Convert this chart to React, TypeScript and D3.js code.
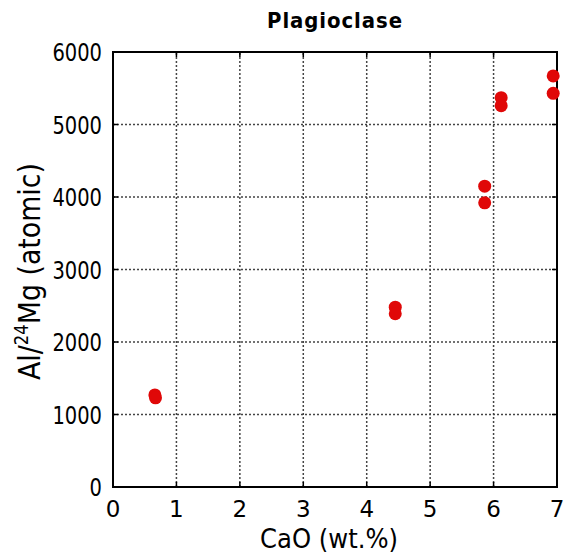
import React, { useEffect, useRef } from 'react';
import * as d3 from 'd3';

// CaO (wt.%) vs Al/24Mg (atomic), two spots per grain
const caoValues = [0.66, 0.67, 4.45, 4.45, 5.86, 5.86, 6.12, 6.12, 6.94, 6.94];
const alMgValues = [1270, 1230, 2480, 2390, 4150, 3920, 5370, 5260, 5670, 5430];
const xTicks = [0, 1, 2, 3, 4, 5, 6, 7];
const yTicks = [0, 1000, 2000, 3000, 4000, 5000, 6000];

const App = () => {
    const svgRef = useRef(null);

    useEffect(() => {
        const svg = d3.select(svgRef.current);
        svg.selectAll("*").remove();

        const width = 566;
        const height = 554;
        const margin = { top: 52, right: 9, bottom: 67, left: 113 };
        const font = "'DejaVu Sans', sans-serif";

        const x = d3.scaleLinear().domain([0, 7]).range([margin.left, width - margin.right]);
        const y = d3.scaleLinear().domain([0, 6000]).range([height - margin.bottom, margin.top]);

        // dotted grid
        svg.append("g")
            .selectAll("line")
            .data(xTicks.slice(1, -1))
            .join("line")
            .attr("x1", d => x(d)).attr("x2", d => x(d))
            .attr("y1", y(0)).attr("y2", y(6000))
            .attr("stroke", "#444").attr("stroke-width", 1.5).attr("stroke-dasharray", "2,2");
        svg.append("g")
            .selectAll("line")
            .data(yTicks.slice(1, -1))
            .join("line")
            .attr("x1", x(0)).attr("x2", x(7))
            .attr("y1", d => y(d)).attr("y2", d => y(d))
            .attr("stroke", "#444").attr("stroke-width", 1.5).attr("stroke-dasharray", "2,2");

        // inward ticks on all sides
        const tickLen = 5;
        const ticks = svg.append("g").attr("stroke", "#000").attr("stroke-width", 1.5);
        xTicks.forEach(d => {
            ticks.append("line").attr("x1", x(d)).attr("x2", x(d)).attr("y1", y(0)).attr("y2", y(0) - tickLen);
            ticks.append("line").attr("x1", x(d)).attr("x2", x(d)).attr("y1", y(6000)).attr("y2", y(6000) + tickLen);
        });
        yTicks.forEach(d => {
            ticks.append("line").attr("x1", x(0)).attr("x2", x(0) + tickLen).attr("y1", y(d)).attr("y2", y(d));
            ticks.append("line").attr("x1", x(7)).attr("x2", x(7) - tickLen).attr("y1", y(d)).attr("y2", y(d));
        });

        // frame
        svg.append("rect")
            .attr("x", x(0)).attr("y", y(6000))
            .attr("width", x(7) - x(0)).attr("height", y(0) - y(6000))
            .attr("fill", "none").attr("stroke", "#000").attr("stroke-width", 2);

        // points
        svg.append("g")
            .selectAll("circle")
            .data(caoValues.map((c, i) => [c, alMgValues[i]]))
            .join("circle")
            .attr("cx", d => x(d[0]))
            .attr("cy", d => y(d[1]))
            .attr("r", 6.5)
            .attr("fill", "#e00808");

        // tick labels (narrow font in the original, so squeeze a bit)
        svg.append("g")
            .selectAll("text")
            .data(xTicks)
            .join("text")
            .attr("x", d => x(d))
            .attr("y", y(0) + 30)
            .attr("text-anchor", "middle")
            .style("font-family", font).style("font-size", "23px")
            .text(d => d);
        svg.append("g")
            .selectAll("text")
            .data(yTicks)
            .join("text")
            .attr("x", x(0) - 11)
            .attr("y", d => y(d) + 9)
            .attr("text-anchor", "end")
            .attr("textLength", d => String(d).length * 12.4)
            .attr("lengthAdjust", "spacingAndGlyphs")
            .style("font-family", font).style("font-size", "25px")
            .text(d => d);

        // title
        svg.append("text")
            .attr("x", (x(0) + x(7)) / 2)
            .attr("y", 28)
            .attr("text-anchor", "middle")
            .attr("textLength", 136)
            .attr("lengthAdjust", "spacingAndGlyphs")
            .style("font-family", font)
            .style("font-size", "21px").style("font-weight", "bold")
            .style("letter-spacing", "1px")
            .text("Plagioclase");

        // x label
        svg.append("text")
            .attr("x", (x(0) + x(7)) / 2 - 6)
            .attr("y", 548)
            .attr("text-anchor", "middle")
            .attr("textLength", 138)
            .attr("lengthAdjust", "spacingAndGlyphs")
            .style("font-family", font).style("font-size", "27px")
            .text("CaO  (wt.%)");

        // y label
        const yl = svg.append("text")
            .attr("transform", `translate(40,${(y(0) + y(6000)) / 2 + 2}) rotate(-90)`)
            .attr("text-anchor", "middle")
            .attr("textLength", 217)
            .attr("lengthAdjust", "spacingAndGlyphs")
            .style("font-family", font).style("font-size", "31px");
        yl.append("tspan").text("Al/");
        yl.append("tspan").attr("dy", -12).style("font-size", "19px").text("24");
        yl.append("tspan").attr("dy", 12).text("Mg  (atomic)");
    }, []);

    return (
        <svg ref={svgRef} width={566} height={554}
            style={{ position: "absolute", left: 0, top: 0, background: "#fff" }} />
    );
};

export default App;
